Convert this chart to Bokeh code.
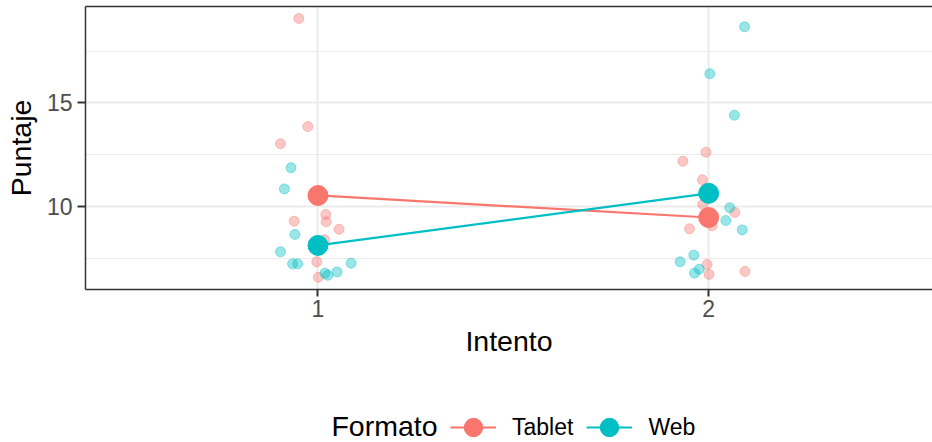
import numpy as np
from bokeh.plotting import figure
from bokeh.layouts import column
from bokeh.models import Range1d, FixedTicker, LinearAxis, Legend, LegendItem, Label
from bokeh.embed import file_html
from bokeh.resources import INLINE

# ---- data ----
formatos = ["Tablet", "Web"]
colores = ["#F8766D", "#00BFC4"]
intentos = [1, 2]
y_ticks = [10, 15]
y_minor = [7.5, 12.5, 17.5]

tablet_1 = [19.08, 13.86, 13.03, 9.29, 9.61, 9.26, 8.90, 8.39, 7.33, 6.58]
tablet_1_jit = [-0.049, -0.026, -0.096, -0.061, 0.020, 0.021, 0.054, 0.017, -0.003, 0.001]
web_1 = [11.87, 10.85, 8.65, 7.81, 7.23, 7.23, 6.78, 6.68, 6.84, 7.26]
web_1_jit = [-0.069, -0.086, -0.059, -0.096, -0.065, -0.052, 0.018, 0.025, 0.049, 0.085]
tablet_2 = [12.62, 12.19, 11.29, 10.10, 9.71, 9.07, 8.92, 7.20, 6.72, 6.86]
tablet_2_jit = [-0.007, -0.066, -0.016, -0.015, 0.067, 0.009, -0.049, -0.004, 0.001, 0.093]
web_2 = [18.68, 16.41, 14.41, 9.94, 9.32, 8.87, 7.33, 7.65, 6.97, 6.78]
web_2_jit = [0.092, 0.003, 0.066, 0.054, 0.044, 0.086, -0.073, -0.038, -0.024, -0.036]

series = {
    "Tablet": [(1, tablet_1, tablet_1_jit), (2, tablet_2, tablet_2_jit)],
    "Web": [(1, web_1, web_1_jit), (2, web_2, web_2_jit)],
}

FONT = "Liberation Sans"
W = 932
H_MAIN = 400
H_LEG = 42
FRAME_LEFT = 85

p = figure(width=W, height=H_MAIN,
           x_range=Range1d(0.405, 2.573), y_range=Range1d(5.99, 19.66),
           output_backend="svg", toolbar_location=None,
           min_border_left=FRAME_LEFT, min_border_right=0, min_border_top=6,
           min_border_bottom=H_MAIN - 289,
           x_axis_label="Intento", y_axis_label="Puntaje")
p.outline_line_color = None
p.background_fill_color = "white"
p.border_fill_color = "white"

p.xaxis.ticker = FixedTicker(ticks=intentos)
p.yaxis.ticker = FixedTicker(ticks=y_ticks, minor_ticks=y_minor)

for g in (p.xgrid, p.ygrid):
    g.grid_line_color = "#EBEBEB"
    g.grid_line_width = 2
p.ygrid.minor_grid_line_color = "#EBEBEB"
p.ygrid.minor_grid_line_width = 1

for ax in (p.xaxis, p.yaxis):
    ax.axis_line_color = "#333333"
    ax.axis_line_width = 1.5
    ax.major_tick_line_color = "#333333"
    ax.major_tick_line_width = 2
    ax.major_tick_in = 0
    ax.minor_tick_line_color = None
    ax.major_label_text_font = FONT
    ax.major_label_text_font_size = "23px"
    ax.major_label_text_color = "#4D4D4D"
    ax.axis_label_text_font = FONT
    ax.axis_label_text_font_size = "28.5px"
    ax.axis_label_text_font_style = "normal"
    ax.axis_label_text_color = "black"
p.yaxis.major_tick_out = 8
p.yaxis.major_label_standoff = 5
p.yaxis.axis_label_standoff = 7
p.xaxis.major_tick_out = 7
p.xaxis.major_label_standoff = 3
p.xaxis.axis_label_standoff = 5

top_axis = LinearAxis(ticker=FixedTicker(ticks=[]), axis_line_color="#333333",
                      axis_line_width=1.5, major_tick_line_color=None,
                      minor_tick_line_color=None, major_label_text_font_size="0px")
p.add_layout(top_axis, "above")

# jittered raw points
for fmt, col in zip(formatos, colores):
    for x, vals, jit in series[fmt]:
        xs = [x + j for j in jit]
        p.scatter(xs, vals, size=10, fill_color=col, fill_alpha=0.4,
                  line_color=col, line_alpha=0.4, line_width=1)

# means per intento and formato
medias = {f: [float(np.mean(vals)) for _, vals, _ in series[f]] for f in formatos}
for fmt, col in zip(formatos, colores):
    p.line(intentos, medias[fmt], line_color=col, line_width=2.2)
for fmt, col in zip(formatos, colores):
    p.scatter(intentos, medias[fmt], size=20, fill_color=col, line_color=col)

# ---- legend strip (its frame is aligned with the main frame by the column) ----
pl = figure(width=W, height=H_LEG, x_range=Range1d(0, 1), y_range=Range1d(0, 1),
            x_axis_location=None, y_axis_location=None, min_border=0,
            min_border_left=FRAME_LEFT,
            output_backend="svg", toolbar_location=None)
pl.outline_line_color = None
pl.background_fill_color = "white"
pl.border_fill_color = "white"
for g in pl.grid:
    g.visible = False

items = []
for fmt, col in zip(formatos, colores):
    lr = pl.line(x=[np.nan], y=[np.nan], line_color=col, line_width=2.2)
    sr = pl.scatter(x=[np.nan], y=[np.nan], size=20, fill_color=col, line_color=col)
    items.append(LegendItem(label=fmt, renderers=[lr, sr]))

legend = Legend(items=items, orientation="horizontal", location=(450 - FRAME_LEFT, -9),
                glyph_width=46, glyph_height=48, label_standoff=16, spacing=13,
                padding=0, margin=0, border_line_color=None, background_fill_alpha=0,
                label_text_font=FONT, label_text_font_size="23px",
                label_text_color="black")
pl.add_layout(legend)

pl.add_layout(Label(x=437 - FRAME_LEFT, y=17, x_units="screen", y_units="screen",
                    text="Formato", text_align="right", text_baseline="middle",
                    text_font=FONT, text_font_size="28.5px", text_color="black"))

layout = column(p, pl, spacing=0)
open("out.html", "w").write(file_html(layout, INLINE))
